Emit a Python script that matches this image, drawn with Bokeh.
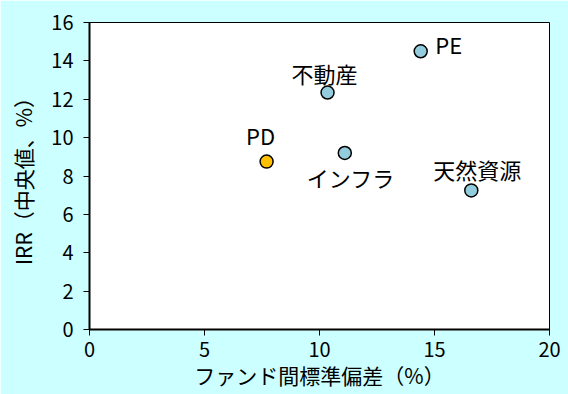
from bokeh.plotting import figure
from bokeh.models import ColumnDataSource, Range1d, FixedTicker
from bokeh.core.properties import value
from bokeh.embed import file_html
from bokeh.resources import INLINE

names = ["PD", "不動産", "PE", "インフラ", "天然資源"]
std_dev = [7.7, 10.35, 14.4, 11.1, 16.6]
irr = [8.75, 12.35, 14.5, 9.2, 7.25]
colors = ["#FFC000", "#93CDDD", "#93CDDD", "#93CDDD", "#93CDDD"]
x_ticks = [0, 5, 10, 15, 20]
y_ticks = [0, 2, 4, 6, 8, 10, 12, 14, 16]

FONT = "Noto Sans CJK JP"

p = figure(width=568, height=394, output_backend="svg", toolbar_location=None,
           x_range=Range1d(0, 20), y_range=Range1d(0, 16),
           min_border_left=89, min_border_right=19, min_border_top=22, min_border_bottom=65)
p.background_fill_color = "white"
p.border_fill_color = "#CCFFFF"
p.outline_line_color = "black"
p.outline_line_width = 1
p.grid.visible = False

for ax in (p.xaxis[0], p.yaxis[0]):
    ax.axis_line_width = 2
    ax.axis_line_color = "black"
    ax.major_tick_line_color = "black"
    ax.major_tick_line_width = 1
    ax.major_tick_out = 6
    ax.major_tick_in = 0
    ax.minor_tick_line_color = None
    ax.major_label_text_font = FONT
    ax.major_label_text_font_size = "20px"
    ax.major_label_text_color = "black"
    ax.axis_label_text_font = FONT
    ax.axis_label_text_font_size = "21px"
    ax.axis_label_text_font_style = "normal"
    ax.axis_label_text_color = "black"

p.xaxis.ticker = FixedTicker(ticks=x_ticks)
p.yaxis.ticker = FixedTicker(ticks=y_ticks)
p.xaxis.axis_label = "ファンド間標準偏差（%）"
p.yaxis.axis_label = "IRR（中央値、%）"
p.xaxis.axis_label_standoff = 0
p.yaxis.axis_label_standoff = 10
p.xaxis.major_label_standoff = 6
p.yaxis.major_label_standoff = 10

src = ColumnDataSource(dict(x=std_dev, y=irr, c=colors, n=names,
                            xo=[-6, -3, 28, 6, 6], yo=[-27, -20, -7, 24, -21]))
p.scatter("x", "y", source=src, size=13, fill_color="c", line_color="black", line_width=1.5)
p.text("x", "y", text="n", source=src, x_offset="xo", y_offset="yo",
       text_align="center", text_baseline="middle",
       text_font=value(FONT), text_font_size="22px", text_color="black")

open("out.html", "w").write(file_html(p, INLINE))
